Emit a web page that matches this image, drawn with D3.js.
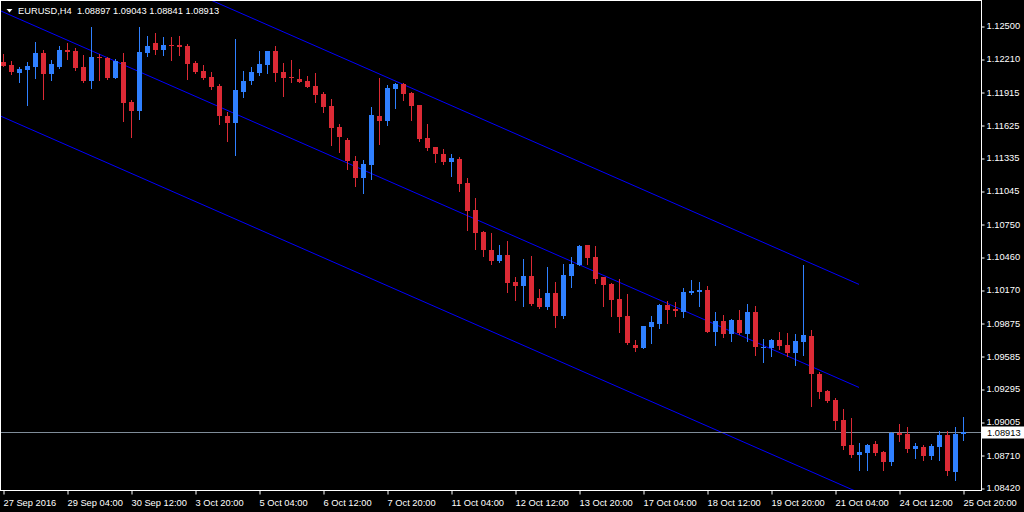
<!DOCTYPE html>
<html>
<head>
  <meta http-equiv="Content-Type" content="text/html;charset=utf-8" />
  <style type="text/css">
    html, body { margin: 0; padding: 0; background: #000; overflow: hidden; }
    text { font-family: "Liberation Sans", Arial, sans-serif; font-size: 9.3px; fill: #fff; }
  </style>
</head>
<body>
  <div id="chart"></div>
  <script src="https://d3js.org/d3.v7.min.js"></script>
  <script type="text/javascript">
    // EURUSD H4, bars 0..120
    var symbol = "EURUSD";
    var timeframe = "H4";

    var open = [
      1.12185, 1.12156, 1.12088, 1.12114, 1.12141, 1.12262, 1.12079, 1.12141, 1.12288, 1.12279,
      1.12138, 1.12017, 1.12229, 1.12217, 1.12043, 1.12182, 1.11829, 1.11752, 1.12262, 1.12347,
      1.12291, 1.12332, 1.12332, 1.12323, 1.12173, 1.12103, 1.12050, 1.11970, 1.11705, 1.11646,
      1.11920, 1.12017, 1.12088, 1.12158, 1.12279, 1.12094, 1.12050, 1.12032, 1.12014, 1.11970,
      1.11900, 1.11794, 1.11608, 1.11493, 1.11308, 1.11160, 1.11273, 1.11705, 1.11661, 1.11944,
      1.11988, 1.11908, 1.11802, 1.11511, 1.11431, 1.11370, 1.11299, 1.11325, 1.11114, 1.10875,
      1.10681, 1.10522, 1.10425, 1.10478, 1.10239, 1.10204, 1.10292, 1.10098, 1.10018, 1.10142,
      1.09939, 1.10292, 1.10389, 1.10566, 1.10460, 1.10283, 1.10222, 1.10089, 1.09939, 1.09683,
      1.09659, 1.09845, 1.09871, 1.10036, 1.10001, 1.09977, 1.10142, 1.10154, 1.10169, 1.09800,
      1.09895, 1.09783, 1.09904, 1.09783, 1.09974, 1.09659, 1.09659, 1.09727, 1.09683, 1.09615,
      1.09712, 1.09762, 1.09427, 1.09277, 1.09197, 1.09021, 1.08800, 1.08714, 1.08732, 1.08809,
      1.08738, 1.08652, 1.08908, 1.08897, 1.08767, 1.08782, 1.08705, 1.08785, 1.08888, 1.08564,
      1.08897
    ];
    var high = [
      1.12253, 1.12188, 1.12138, 1.12182, 1.12359, 1.12288, 1.12197, 1.12321, 1.12350, 1.12303,
      1.12244, 1.12491, 1.12255, 1.12222, 1.12206, 1.12262, 1.11847, 1.12495, 1.12412, 1.12438,
      1.12403, 1.12403, 1.12412, 1.12341, 1.12191, 1.12156, 1.12094, 1.11988, 1.11741, 1.12385,
      1.12103, 1.12138, 1.12279, 1.12283, 1.12323, 1.12173, 1.12200, 1.12120, 1.12058, 1.12085,
      1.11917, 1.11855, 1.11635, 1.11511, 1.11352, 1.11317, 1.11785, 1.12041, 1.11979, 1.11997,
      1.11997, 1.11917, 1.11806, 1.11635, 1.11435, 1.11414, 1.11370, 1.11343, 1.11158, 1.10981,
      1.10686, 1.10672, 1.10566, 1.10601, 1.10283, 1.10442, 1.10469, 1.10177, 1.10372, 1.10239,
      1.10398, 1.10460, 1.10566, 1.10570, 1.10557, 1.10287, 1.10226, 1.10266, 1.10133, 1.09727,
      1.09855, 1.09939, 1.10045, 1.10071, 1.10063, 1.10186, 1.10257, 1.10239, 1.10204, 1.09974,
      1.09948, 1.09913, 1.09992, 1.10045, 1.10027, 1.09736, 1.09739, 1.09800, 1.09789, 1.09780,
      1.10389, 1.09815, 1.09447, 1.09286, 1.09215, 1.09118, 1.09038, 1.08817, 1.08805, 1.08835,
      1.08747, 1.08917, 1.08985, 1.08959, 1.08817, 1.08800, 1.08809, 1.08924, 1.08924, 1.08959,
      1.09043
    ];
    var low = [
      1.12145, 1.12073, 1.12008, 1.11805, 1.12043, 1.11858, 1.12026, 1.12132, 1.12209, 1.12114,
      1.12008, 1.11955, 1.12023, 1.12032, 1.12040, 1.11664, 1.11522, 1.11681, 1.12238, 1.12255,
      1.12247, 1.12200, 1.12247, 1.12035, 1.12088, 1.12035, 1.11946, 1.11637, 1.11487, 1.11363,
      1.11876, 1.11990, 1.12070, 1.12088, 1.12017, 1.11885, 1.12008, 1.12005, 1.11961, 1.11832,
      1.11743, 1.11452, 1.11390, 1.11240, 1.11090, 1.11028, 1.11152, 1.11461, 1.11628, 1.11779,
      1.11847, 1.11670, 1.11484, 1.11405, 1.11299, 1.11281, 1.11175, 1.11043, 1.10699, 1.10531,
      1.10469, 1.10398, 1.10420, 1.10151, 1.10080, 1.10027, 1.10036, 1.10010, 1.10001, 1.09842,
      1.09921, 1.10195, 1.10385, 1.10398, 1.10230, 1.10027, 1.09939, 1.09798, 1.09692, 1.09630,
      1.09655, 1.09703, 1.09836, 1.09880, 1.09942, 1.09933, 1.10136, 1.10030, 1.09795, 1.09686,
      1.09756, 1.09721, 1.09783, 1.09721, 1.09597, 1.09535, 1.09586, 1.09650, 1.09588, 1.09509,
      1.09597, 1.09147, 1.09218, 1.09182, 1.08944, 1.08767, 1.08696, 1.08582, 1.08582, 1.08714,
      1.08582, 1.08626, 1.08838, 1.08741, 1.08688, 1.08670, 1.08679, 1.08670, 1.08538, 1.08493,
      1.08841
    ];
    var close = [
      1.12149, 1.12091, 1.12120, 1.12147, 1.12262, 1.12079, 1.12164, 1.12288, 1.12273, 1.12132,
      1.12014, 1.12226, 1.12220, 1.12041, 1.12191, 1.11823, 1.11752, 1.12270, 1.12323, 1.12291,
      1.12332, 1.12326, 1.12317, 1.12167, 1.12096, 1.12043, 1.11964, 1.11708, 1.11646, 1.11935,
      1.12014, 1.12094, 1.12164, 1.12279, 1.12088, 1.12043, 1.12038, 1.12008, 1.11964, 1.11893,
      1.11787, 1.11602, 1.11522, 1.11310, 1.11160, 1.11281, 1.11714, 1.11661, 1.11953, 1.11988,
      1.11900, 1.11794, 1.11502, 1.11423, 1.11370, 1.11299, 1.11334, 1.11105, 1.10866, 1.10672,
      1.10522, 1.10425, 1.10478, 1.10230, 1.10204, 1.10292, 1.10045, 1.10018, 1.10142, 1.09939,
      1.10301, 1.10398, 1.10557, 1.10451, 1.10266, 1.10213, 1.10080, 1.09930, 1.09701, 1.09656,
      1.09851, 1.09886, 1.10036, 1.09995, 1.09983, 1.10151, 1.10160, 1.10169, 1.09800, 1.09895,
      1.09783, 1.09904, 1.09789, 1.09974, 1.09668, 1.09668, 1.09727, 1.09677, 1.09615, 1.09718,
      1.09771, 1.09430, 1.09271, 1.09191, 1.09014, 1.08794, 1.08714, 1.08738, 1.08800, 1.08732,
      1.08652, 1.08908, 1.08891, 1.08767, 1.08791, 1.08705, 1.08791, 1.08888, 1.08573, 1.08900,
      1.08913
    ];

    var xTickBars = [0, 8, 16, 24, 32, 40, 48, 56, 64, 72, 80, 88, 96, 104, 112, 120];
    var xTickLabels = ["27 Sep 2016", "29 Sep 04:00", "30 Sep 12:00", "3 Oct 20:00", "5 Oct 04:00",
      "6 Oct 12:00", "7 Oct 20:00", "11 Oct 04:00", "12 Oct 12:00", "13 Oct 20:00", "17 Oct 04:00",
      "18 Oct 12:00", "19 Oct 20:00", "21 Oct 04:00", "24 Oct 12:00", "25 Oct 20:00"];
    var yTicks = [1.12500, 1.12210, 1.11915, 1.11625, 1.11335, 1.11045, 1.10750, 1.10460,
      1.10170, 1.09875, 1.09585, 1.09295, 1.09005, 1.08710, 1.08420];

    // regression channel: middle line anchors and offsets of the borders
    var chanBars = [-30, 107];
    var chanMid = [1.13554, 1.09308];
    var chanOffsets = [0.00910, 0, -0.00929];

    var w = 1024, h = 512;
    var right = 981.5, bottom = 490.5;
    var bull = "#2f80ff", bear = "#dc2a35";

    var svg = d3.select("#chart").append("svg")
      .attr("width", w)
      .attr("height", h)
      .style("display", "block");

    var x = d3.scaleLinear().domain([0, 120]).range([3, 963]);
    var y = d3.scaleLinear().domain([1.08420, 1.12500]).range([488, 26]);

    svg.append("clipPath").attr("id", "plot")
      .append("rect").attr("x", 1).attr("y", 1).attr("width", right - 1).attr("height", bottom - 1);

    var plot = svg.append("g").attr("clip-path", "url(#plot)");

    // channel lines
    plot.selectAll(".chan")
      .data(chanOffsets)
      .enter()
      .append("line")
      .attr("x1", x(chanBars[0]))
      .attr("x2", x(chanBars[1]))
      .attr("y1", (d) => y(chanMid[0] + d))
      .attr("y2", (d) => y(chanMid[1] + d))
      .attr("stroke", "#0000ff")
      .attr("stroke-width", 1);

    // last price line
    var last = close[close.length - 1];
    plot.append("line")
      .attr("x1", 0).attr("x2", right)
      .attr("y1", Math.round(y(last)) + 0.5)
      .attr("y2", Math.round(y(last)) + 0.5)
      .attr("stroke", "#7f8c99");

    var bars = d3.range(open.length);
    var color = (i) => close[i] >= open[i] ? bull : bear;

    plot.selectAll(".wick")
      .data(bars)
      .enter()
      .append("line")
      .attr("x1", (i) => Math.round(x(i)) + 0.5)
      .attr("x2", (i) => Math.round(x(i)) + 0.5)
      .attr("y1", (i) => Math.round(y(high[i])))
      .attr("y2", (i) => Math.round(y(low[i])) + 1)
      .attr("stroke", color);

    plot.selectAll(".body")
      .data(bars)
      .enter()
      .append("rect")
      .attr("x", (i) => Math.round(x(i)) - 2)
      .attr("width", 5)
      .attr("y", (i) => Math.round(y(Math.max(open[i], close[i]))))
      .attr("height", (i) => Math.max(1, Math.round(y(Math.min(open[i], close[i]))) - Math.round(y(Math.max(open[i], close[i])))))
      .attr("fill", color);

    // frame
    svg.append("rect")
      .attr("x", 0.5).attr("y", 0.5)
      .attr("width", right - 0.5).attr("height", bottom - 0.5)
      .attr("fill", "none")
      .attr("stroke", "#fff");

    var yAxis = d3.axisRight(y)
      .tickValues(yTicks)
      .tickSize(3)
      .tickPadding(2)
      .tickFormat(d3.format(".5f"));
    var gy = svg.append("g")
      .attr("transform", "translate(" + right + ",0)")
      .call(yAxis);
    gy.select(".domain").remove();
    gy.selectAll(".tick line").attr("stroke", "#fff")
      .attr("transform", (d) => "translate(0," + (Math.round(y(d)) + 0.5 - y(d)) + ")");
    gy.selectAll(".tick text").attr("fill", "#fff").attr("font-size", null).attr("font-family", null);

    var xAxis = d3.axisBottom(x)
      .tickValues(xTickBars)
      .tickSize(4)
      .tickPadding(3)
      .tickFormat((d, i) => xTickLabels[i]);
    var gx = svg.append("g")
      .attr("transform", "translate(0," + bottom + ")")
      .call(xAxis);
    gx.select(".domain").remove();
    gx.selectAll(".tick line").attr("stroke", "#fff").attr("transform", "translate(0.5,0)");
    gx.selectAll(".tick text")
      .attr("fill", "#fff")
      .attr("font-size", null)
      .attr("font-family", null)
      .attr("text-anchor", "start")
      .attr("dy", "0.9em");

    // last price label on the scale
    var ly = Math.round(y(last)) + 0.5;
    svg.append("rect")
      .attr("x", right + 0.5).attr("y", ly - 6)
      .attr("width", w - right).attr("height", 12)
      .attr("fill", "#fff");
    svg.append("text")
      .attr("x", right + 5.5).attr("y", ly)
      .attr("dy", "0.35em")
      .style("fill", "#000")
      .text(d3.format(".5f")(last));

    // header
    var n = open.length - 1;
    svg.append("path")
      .attr("d", "M6.5,9 L12.5,9 L9.5,12.5 Z")
      .attr("fill", "#fff");
    svg.append("text")
      .attr("x", 18).attr("y", 14)
      .style("white-space", "pre")
      .text(symbol + "," + timeframe + "  " + [open[n], high[n], low[n], close[n]].map(d3.format(".5f")).join(" "));
  </script>
</body>
</html>
